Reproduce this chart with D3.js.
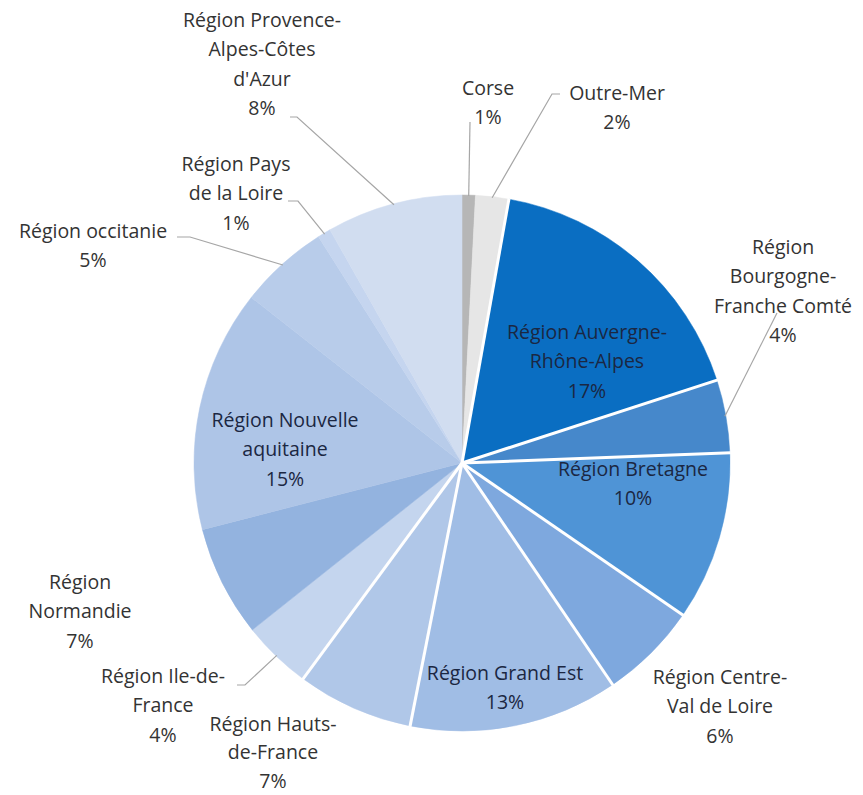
<!DOCTYPE html>
<html>
<head>
<meta charset="utf-8">
<script src="https://cdn.jsdelivr.net/npm/d3@7/dist/d3.min.js"></script>
<style>
  body { margin: 0; background: #fff; }
  text { font-family: "Open Sans", sans-serif; font-size: 19.5px; }
</style>
</head>
<body>
<svg id="chart" width="863" height="795"></svg>
<script>
// slices, clockwise from 12 o'clock
var regions = [
    "Corse", "Outre-Mer", "Région Auvergne-Rhône-Alpes", "Région Bourgogne-Franche Comté",
    "Région Bretagne", "Région Centre-Val de Loire", "Région Grand Est", "Région Hauts-de-France",
    "Région Ile-de-France", "Région Normandie", "Région Nouvelle aquitaine", "Région occitanie",
    "Région Pays de la Loire", "Région Provence-Alpes-Côtes d'Azur"
];
var shares = [0.8, 2.0, 17.2, 4.4, 10.2, 5.9, 12.6, 7.0, 4.2, 6.7, 14.6, 5.4, 0.8, 8.2];
var colors = [
    "#b6b6b6", "#e6e6e6", "#0a6ec2", "#4688cb", "#4f94d6", "#7ea8de", "#a0bde5",
    "#b0c7e8", "#c4d5ee", "#93b3df", "#aec5e7", "#b8ccea", "#c5d5ef", "#d1ddf0"
];
// how each label is broken into lines (percentage is appended)
var labelLines = [
    ["Corse"], ["Outre-Mer"], ["Région Auvergne-", "Rhône-Alpes"], ["Région", "Bourgogne-", "Franche Comté"],
    ["Région Bretagne"], ["Région Centre-", "Val de Loire"], ["Région Grand Est"], ["Région Hauts-", "de-France"],
    ["Région Ile-de-", "France"], ["Région", "Normandie"], ["Région Nouvelle", "aquitaine"], ["Région occitanie"],
    ["Région Pays", "de la Loire"], ["Région Provence-", "Alpes-Côtes", "d'Azur"]
];

var svg = d3.select("#chart"),
    cx = 462, cy = 463, radius = 268;

// label block centres (first line) and leader line start points
var labelPos = [
    {x: 488, y: 88, lead: [[470, 122]]},
    {x: 617, y: 93, lead: [[560, 94], [552, 94]]},
    {x: 587, y: 332, inside: true},
    {x: 783, y: 247, lead: [[777, 313]]},
    {x: 633, y: 469, inside: true},
    {x: 720, y: 677},
    {x: 505, y: 673, inside: true},
    {x: 273, y: 724, gap: 28.5},
    {x: 163, y: 676, lead: [[237, 685], [245, 685]]},
    {x: 80, y: 582},
    {x: 285, y: 420, inside: true},
    {x: 93, y: 231, lead: [[177, 237], [190, 237]]},
    {x: 236, y: 164, lead: [[288, 201], [298, 201]]},
    {x: 262, y: 20, lead: [[290, 117], [297, 117]]}
];
var lineGap = 29.5;

var pie = d3.pie().sort(null).value(function (d) { return d; });
var arcs = pie(shares);
var arc = d3.arc().innerRadius(0).outerRadius(radius);

var g = svg.append("g").attr("transform", "translate(" + cx + "," + cy + ")");

g.selectAll("path.slice")
    .data(arcs)
    .enter().append("path")
    .attr("class", "slice")
    .attr("d", arc)
    .attr("fill", function (d, i) { return colors[i]; })
    .attr("stroke", function (d, i) { return colors[i]; })
    .attr("stroke-width", 0.5);

// white separators only show on the right / lower side of the pie
var sepIdx = [2, 3, 4, 5, 6, 7, 8];
g.selectAll("line.sep")
    .data(sepIdx)
    .enter().append("line")
    .attr("class", "sep")
    .attr("x1", 0).attr("y1", 0)
    .attr("x2", function (i) { return Math.sin(arcs[i].startAngle) * (radius + 1); })
    .attr("y2", function (i) { return -Math.cos(arcs[i].startAngle) * (radius + 1); })
    .attr("stroke", "#fff")
    .attr("stroke-width", 3);

// leader lines
arcs.forEach(function (d, i) {
    var p = labelPos[i];
    if (!p.lead) return;
    var mid = (d.startAngle + d.endAngle) / 2;
    var pts = p.lead.map(function (q) { return [q[0] - cx, q[1] - cy]; });
    pts.push([Math.sin(mid) * (radius - 1), -Math.cos(mid) * (radius - 1)]);
    g.append("path")
        .attr("d", d3.line()(pts))
        .attr("fill", "none")
        .attr("stroke", "#a6a6a6")
        .attr("stroke-width", 1.2);
});

// labels
arcs.forEach(function (d, i) {
    var p = labelPos[i];
    var lines = labelLines[i].concat([Math.round(shares[i]) + "%"]);
    var t = svg.append("text")
        .attr("text-anchor", "middle")
        .attr("fill", p.inside ? "#1b2742" : "#333333");
    lines.forEach(function (s, k) {
        t.append("tspan")
            .attr("x", p.x)
            .attr("y", p.y + k * (p.gap || lineGap))
            .attr("dy", "0.35em")
            .text(s);
    });
});
</script>
</body>
</html>
